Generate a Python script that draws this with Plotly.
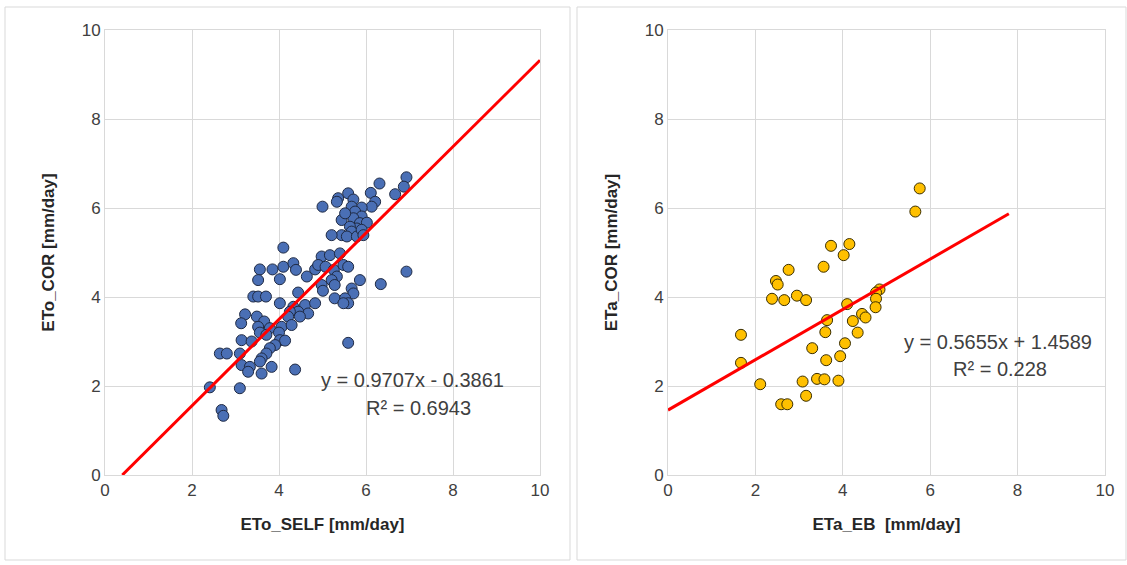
import plotly.graph_objects as go

# Left panel data: ETo_SELF vs ETo_COR
eto_self = [6.93, 6.87, 6.67, 6.31, 6.11, 6.21, 6.13, 5.9, 5.59, 5.71, 5.36, 5.33, 5.0, 5.67, 5.75,
            5.9, 5.71, 5.44, 5.86, 6.02, 5.79, 5.63, 5.67, 5.44, 5.21, 5.56, 5.79, 5.9, 5.94, 5.52,
            4.10, 3.56, 3.85, 4.10, 4.33, 4.39, 4.02, 3.52, 4.64, 4.83, 4.98, 5.17, 5.40, 4.90, 5.07,
            5.26, 5.48, 5.59, 5.33, 5.21, 5.28, 4.98, 5.01, 5.86, 5.67, 5.71, 6.34, 6.93, 4.44, 3.41,
            3.52, 3.70, 5.28, 5.52, 5.59, 5.48, 4.02, 4.33, 4.60, 4.83, 4.67, 4.44, 4.25, 4.21, 4.48,
            3.22, 3.49, 3.13, 3.66, 3.52, 3.79, 4.06, 4.29, 3.56, 4.0, 3.71, 3.14, 3.37, 4.02, 4.14,
            3.91, 3.79, 5.59, 2.64, 2.80, 3.10, 3.71, 3.60, 3.56, 3.14, 3.33, 3.29, 3.60, 3.83, 4.37,
            2.41, 3.10, 2.68, 2.72]
eto_cor = [6.69, 6.48, 6.31, 6.55, 6.34, 6.14, 6.03, 6.01, 6.33, 6.19, 6.22, 6.14, 6.03, 6.03, 5.92,
           5.81, 5.77, 5.73, 5.66, 5.67, 5.54, 5.58, 5.47, 5.39, 5.39, 5.36, 5.36, 5.51, 5.39, 5.88,
           5.11, 4.62, 4.62, 4.68, 4.76, 4.61, 4.40, 4.38, 4.46, 4.62, 4.91, 4.94, 4.98, 4.72, 4.68,
           4.61, 4.72, 4.68, 4.46, 4.38, 4.27, 4.27, 4.14, 4.38, 4.19, 4.08, 4.29, 4.57, 4.10, 4.01,
           4.01, 4.01, 3.97, 3.97, 3.86, 3.86, 3.86, 3.78, 3.82, 3.86, 3.63, 3.67, 3.67, 3.56, 3.56,
           3.61, 3.56, 3.41, 3.45, 3.33, 3.30, 3.33, 3.37, 3.20, 3.20, 3.15, 3.03, 3.0, 3.03, 3.02,
           2.92, 2.85, 2.97, 2.73, 2.73, 2.73, 2.73, 2.62, 2.55, 2.47, 2.43, 2.32, 2.28, 2.43, 2.37,
           1.97, 1.95, 1.46, 1.33]

# Right panel data: ETa_EB vs ETa_COR
eta_eb = [5.76, 5.66, 3.73, 4.15, 4.02, 3.56, 2.76, 2.47, 2.51, 2.38, 2.66, 2.95, 3.16, 4.84, 4.76,
          4.76, 4.75, 4.10, 4.44, 4.52, 4.23, 3.64, 4.34, 3.60, 4.05, 3.30, 3.94, 3.62, 1.67, 1.67,
          2.11, 3.08, 3.41, 3.58, 3.90, 3.16, 2.59, 2.73]
eta_cor = [6.44, 5.92, 5.15, 5.19, 4.94, 4.68, 4.61, 4.36, 4.28, 3.96, 3.93, 4.03, 3.93, 4.17, 4.10,
           3.96, 3.77, 3.84, 3.62, 3.54, 3.46, 3.48, 3.20, 3.21, 2.96, 2.85, 2.67, 2.58, 3.15, 2.52,
           2.04, 2.10, 2.16, 2.15, 2.12, 1.78, 1.59, 1.59]

# Trendline coefficients
slope_l, icpt_l = 0.9707, -0.3861
slope_r, icpt_r = 0.5655, 1.4589
trend_l_x = [-icpt_l / slope_l, 10]
trend_r_x = [0, 7.8]

ticks = [0, 2, 4, 6, 8, 10]

W, H = 1127, 565
def fx(p): return p / W
def fy(p): return 1 - p / H

fig = go.Figure()

fig.add_trace(go.Scatter(x=eto_self, y=eto_cor, mode="markers", xaxis="x", yaxis="y",
                         marker=dict(size=11, color="#4A6FB5", line=dict(color="#1F2A44", width=1)),
                         showlegend=False))
fig.add_trace(go.Scatter(x=trend_l_x, y=[slope_l * v + icpt_l for v in trend_l_x], mode="lines",
                         xaxis="x", yaxis="y", line=dict(color="#FF0000", width=3), showlegend=False))

fig.add_trace(go.Scatter(x=eta_eb, y=eta_cor, mode="markers", xaxis="x2", yaxis="y2",
                         marker=dict(size=11, color="#FFC000", line=dict(color="#3A2E00", width=1)),
                         showlegend=False))
fig.add_trace(go.Scatter(x=trend_r_x, y=[slope_r * v + icpt_r for v in trend_r_x], mode="lines",
                         xaxis="x2", yaxis="y2", line=dict(color="#FF0000", width=3), showlegend=False))

tickfont = dict(family="Liberation Sans Narrow, Arial Narrow, sans-serif", size=17, color="#404040")
titlefont = dict(family="Liberation Sans Narrow, Arial Narrow, sans-serif", size=17, color="#262626")
eqfont = dict(family="Liberation Sans, Arial, sans-serif", size=20, color="#404040")

axis_common = dict(range=[0, 10], tickvals=ticks, showgrid=True, gridcolor="#D9D9D9", gridwidth=1,
                   zeroline=False, showline=True, linecolor="#D9D9D9", mirror=True,
                   tickfont=tickfont, ticks="", automargin=False)

fig.update_layout(
    width=W, height=H,
    margin=dict(l=0, r=0, t=0, b=0),
    paper_bgcolor="white", plot_bgcolor="white",
    xaxis=dict(domain=[fx(105), fx(540)], anchor="y",
               title=dict(text="<b>ETo_SELF [mm/day]</b>", font=titlefont, standoff=18), **axis_common),
    yaxis=dict(domain=[fy(475), fy(30)], anchor="x",
               title=dict(text="<b>ETo_COR [mm/day]</b>", font=titlefont, standoff=22), **axis_common),
    xaxis2=dict(domain=[fx(668), fx(1105)], anchor="y2",
                title=dict(text="<b>ETa_EB  [mm/day]</b>", font=titlefont, standoff=18), **axis_common),
    yaxis2=dict(domain=[fy(475), fy(30)], anchor="x2",
                title=dict(text="<b>ETa_COR [mm/day]</b>", font=titlefont, standoff=22), **axis_common),
    shapes=[
        dict(type="rect", xref="paper", yref="paper", x0=fx(5), x1=fx(570), y0=fy(560), y1=fy(7),
             line=dict(color="#D9D9D9", width=1)),
        dict(type="rect", xref="paper", yref="paper", x0=fx(577), x1=fx(1126), y0=fy(560), y1=fy(7),
             line=dict(color="#D9D9D9", width=1)),
    ],
    annotations=[
        dict(text="y = 0.9707x - 0.3861", x=7.08, y=2.13, xref="x", yref="y", xanchor="center",
             showarrow=False, font=eqfont),
        dict(text="R² = 0.6943", x=7.2, y=1.51, xref="x", yref="y", xanchor="center",
             showarrow=False, font=eqfont),
        dict(text="y = 0.5655x + 1.4589", x=7.55, y=2.99, xref="x2", yref="y2", xanchor="center",
             showarrow=False, font=eqfont),
        dict(text="R² = 0.228", x=7.6, y=2.38, xref="x2", yref="y2", xanchor="center",
             showarrow=False, font=eqfont),
    ],
)

fig.write_html("out.html", config={"displayModeBar": False},
               post_script="document.body.style.margin='0';document.body.style.overflow='hidden';")
